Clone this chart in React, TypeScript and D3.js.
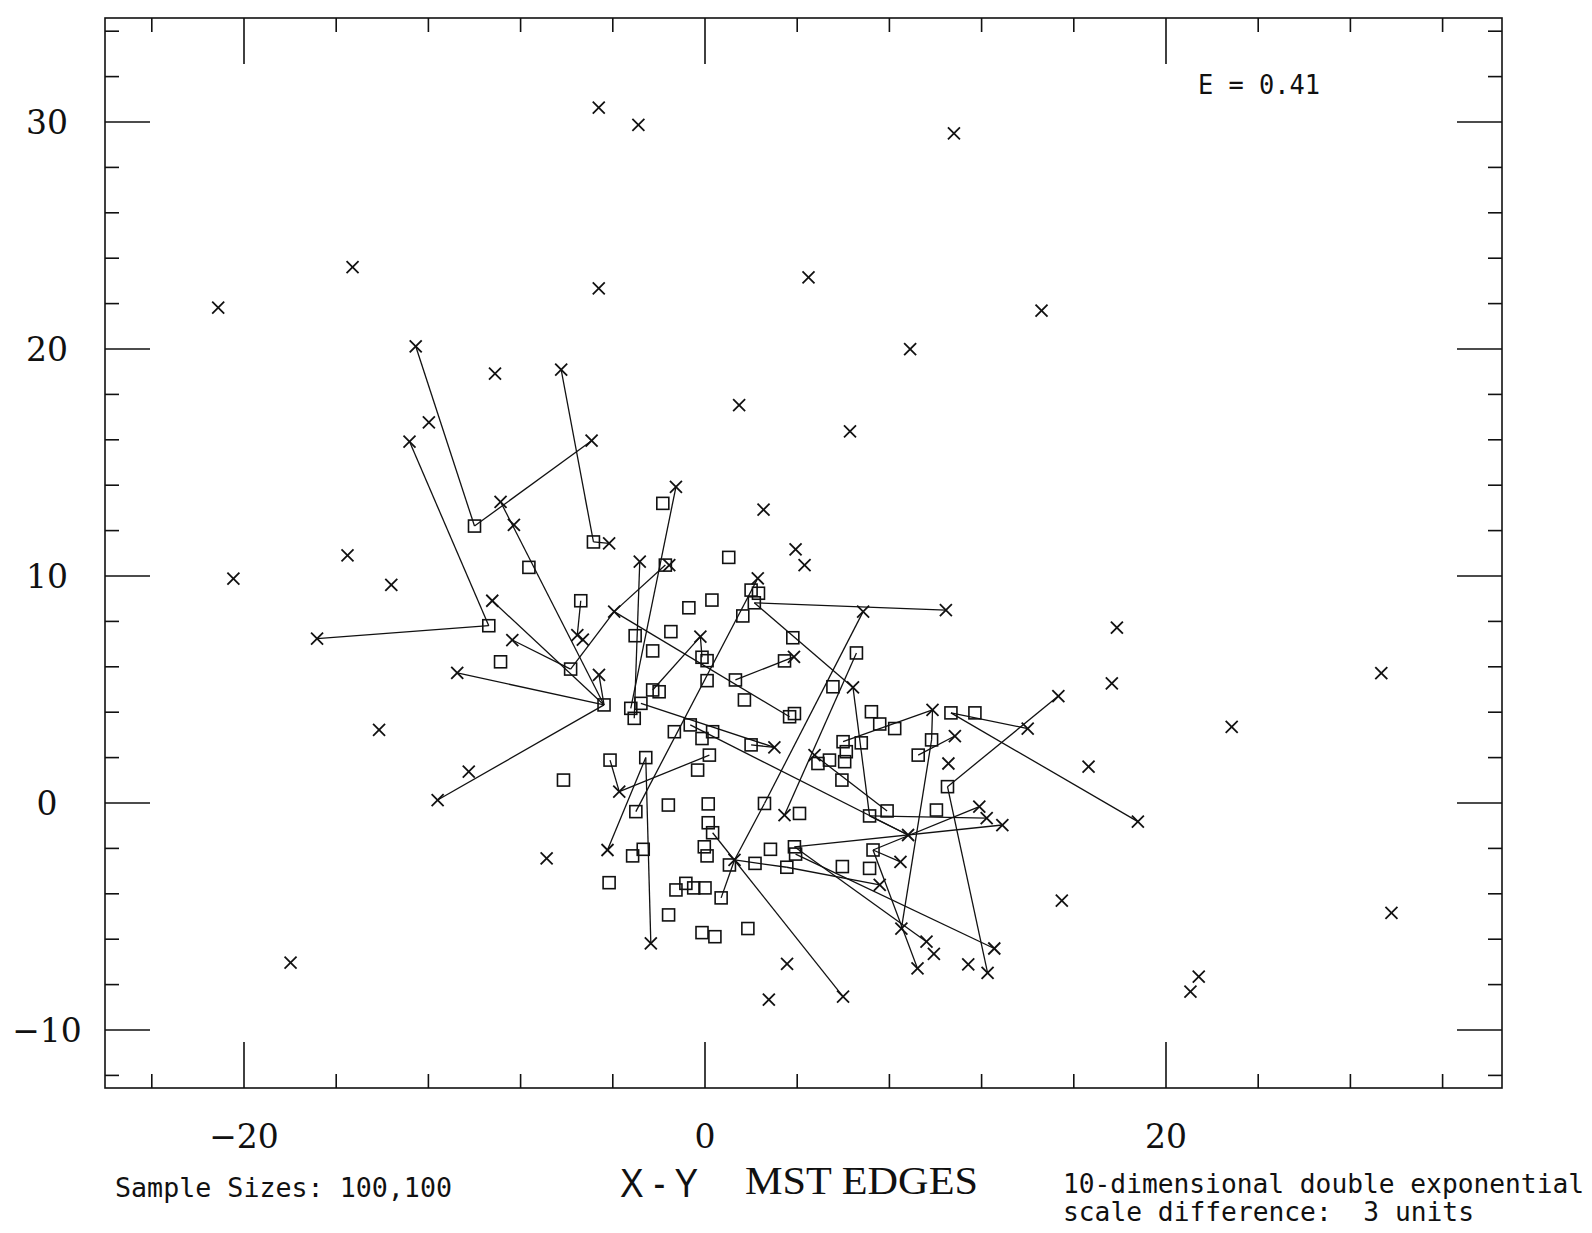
import React from 'react';
import * as d3 from 'd3';

// Sample X (crosses), in data units
const xSample: [number, number][] = [
  [-21.12, 21.82], [-15.29, 23.61], [-4.61, 30.63], [-2.89, 29.87], [10.8, 29.5],
  [-4.61, 22.67], [4.49, 23.16], [14.6, 21.69], [8.9, 19.99], [-12.55, 20.12],
  [-9.11, 18.92], [-6.24, 19.09], [1.48, 17.53], [6.29, 16.37], [-11.98, 16.77],
  [-12.82, 15.92], [-4.92, 15.96], [2.54, 12.92], [-20.46, 9.88], [-15.51, 10.91],
  [-13.61, 9.61], [-16.83, 7.24], [-14.14, 3.22], [-17.98, -7.03], [17.87, 7.73],
  [17.65, 5.27], [29.34, 5.72], [29.78, -4.84], [15.48, -4.3], [22.85, 3.35],
  [16.64, 1.6], [18.78, -0.82], [21.06, -8.31], [21.42, -7.65], [-6.87, -2.44],
  [3.56, -7.09], [2.77, -8.66], [5.99, -8.53], [-2.35, -6.18], [-1.26, 13.93],
  [-8.87, 13.27], [-8.29, 12.25], [-4.16, 11.44], [3.93, 11.17], [-2.83, 10.63],
  [-1.55, 10.48], [2.29, 9.9], [4.32, 10.48], [-9.23, 8.91], [-3.94, 8.43],
  [-8.36, 7.18], [-5.54, 7.4], [-5.3, 7.2], [-0.2, 7.33], [-10.75, 5.73],
  [-4.6, 5.64], [3.86, 6.44], [-10.25, 1.38], [-11.6, 0.13], [-3.72, 0.5],
  [-4.23, -2.07], [10.45, 8.5], [6.86, 8.43], [15.33, 4.71], [6.42, 5.09],
  [9.87, 4.1], [14.0, 3.28], [10.84, 2.95], [3.01, 2.45], [4.75, 2.11],
  [10.56, 1.74], [3.45, -0.53], [1.28, -2.51], [11.9, -0.16], [12.22, -0.67],
  [12.9, -0.97], [8.48, -2.59], [8.81, -1.41], [7.58, -3.61], [8.52, -5.53],
  [9.61, -6.11], [9.93, -6.65], [9.22, -7.29], [11.42, -7.11], [12.26, -7.48],
  [12.55, -6.41],
];

// Sample Y (squares), in data units
const ySample: [number, number][] = [
  [-10.0, 12.2], [-4.84, 11.5], [-9.38, 7.81], [-7.64, 10.38], [-1.83, 13.2],
  [1.03, 10.82], [-1.72, 10.48], [2.0, 9.38], [2.32, 9.24], [2.14, 8.82],
  [-5.39, 8.91], [-0.7, 8.6], [0.3, 8.94], [1.64, 8.24], [3.81, 7.28],
  [-8.87, 6.22], [-3.03, 7.37], [-1.48, 7.55], [-2.27, 6.7], [-5.83, 5.9],
  [-0.13, 6.42], [0.09, 6.27], [0.09, 5.39], [1.32, 5.42], [1.71, 4.54],
  [3.45, 6.26], [-4.38, 4.32], [-3.22, 4.17], [-3.07, 3.73], [-2.78, 4.39],
  [-2.27, 4.98], [-1.99, 4.9], [-1.33, 3.14], [-0.64, 3.44], [0.33, 3.14],
  [-0.13, 2.84], [3.67, 3.8], [3.88, 3.94], [2.0, 2.56], [6.57, 6.61],
  [5.55, 5.12], [7.22, 4.02], [7.58, 3.48], [8.23, 3.28], [10.67, 3.97],
  [11.71, 3.97], [9.83, 2.78], [5.99, 2.7], [6.78, 2.65], [-6.14, 1.01],
  [-4.12, 1.89], [-2.57, 2.0], [-0.32, 1.45], [0.19, 2.11], [-3.0, -0.38],
  [-1.59, -0.09], [0.14, -0.04], [0.14, -0.87], [0.33, -1.31], [-3.14, -2.33],
  [-2.68, -2.04], [-4.16, -3.51], [-0.03, -1.93], [0.09, -2.33], [1.06, -2.73],
  [2.17, -2.66], [2.84, -2.04], [3.88, -1.93], [3.93, -2.25], [3.55, -2.83],
  [2.58, -0.02], [4.1, -0.46], [-1.26, -3.83], [-0.83, -3.54], [-0.49, -3.74],
  [0.0, -3.74], [0.7, -4.18], [-1.58, -4.93], [-0.13, -5.71], [0.43, -5.89],
  [1.86, -5.53], [9.25, 2.11], [4.9, 1.74], [5.4, 1.89], [6.06, 1.82],
  [6.13, 2.26], [5.94, 1.01], [10.52, 0.72], [7.14, -0.57], [7.9, -0.35],
  [10.04, -0.31], [7.29, -2.07], [5.96, -2.8], [7.14, -2.88],
];

// MST edges joining an X point to a Y point: [x1, y1, x2, y2]
const mstEdges: [number, number, number, number][] = [
  [-12.55, 20.12, -10.0, 12.2],
  [-4.92, 15.96, -10.0, 12.2],
  [-6.24, 19.09, -4.84, 11.5],
  [-12.82, 15.92, -9.38, 7.81],
  [-16.83, 7.24, -9.38, 7.81],
  [-8.87, 13.27, -4.38, 4.32],
  [-9.23, 8.91, -4.38, 4.32],
  [-8.36, 7.18, -5.83, 5.9],
  [-10.75, 5.73, -4.38, 4.32],
  [-11.6, 0.13, -4.38, 4.32],
  [-1.26, 13.93, -3.22, 4.17],
  [-2.83, 10.63, -3.07, 3.73],
  [-3.94, 8.43, -1.72, 10.48],
  [-3.94, 8.43, -5.83, 5.9],
  [-3.94, 8.43, 3.67, 3.8],
  [-4.23, -2.07, -2.57, 2.0],
  [-2.35, -6.18, -2.57, 2.0],
  [-3.72, 0.5, 0.19, 2.11],
  [5.99, -8.53, 0.33, -1.31],
  [1.28, -2.51, 2.58, -0.02],
  [6.86, 8.43, 2.58, -0.02],
  [1.28, -2.51, 0.7, -4.18],
  [10.45, 8.5, 2.14, 8.82],
  [6.42, 5.09, 2.14, 8.82],
  [3.86, 6.44, 1.32, 5.42],
  [9.87, 4.1, 5.99, 2.7],
  [9.87, 4.1, 9.83, 2.78],
  [8.52, -5.53, 9.83, 2.78],
  [14.0, 3.28, 10.67, 3.97],
  [18.78, -0.82, 10.67, 3.97],
  [15.33, 4.71, 10.52, 0.72],
  [12.26, -7.48, 10.52, 0.72],
  [12.9, -0.97, 3.88, -1.93],
  [11.9, -0.16, 7.29, -2.07],
  [12.22, -0.67, 7.14, -0.57],
  [9.22, -7.29, 7.29, -2.07],
  [12.55, -6.41, 3.93, -2.25],
  [9.61, -6.11, 3.88, -1.93],
  [7.58, -3.61, 3.55, -2.83],
  [6.42, 5.09, 7.14, -0.57],
  [2.29, 9.9, -3.0, -0.38],
  [3.45, -0.53, 6.57, 6.61],
  [-0.2, 7.33, -0.13, 6.42],
  [4.75, 2.11, 7.9, -0.35],
  [8.81, -1.41, 7.14, -0.57],
  [8.48, -2.59, 7.29, -2.07],
  [-4.6, 5.64, -4.38, 4.32],
  [-0.2, 7.33, -2.27, 4.98],
  [3.01, 2.45, 2.0, 2.56],
  [-3.72, 0.5, -4.12, 1.89],
  [1.28, -2.51, 3.55, -2.83],
  [-4.16, 11.44, -4.84, 11.5],
  [8.81, -1.41, -0.64, 3.44],
  [3.01, 2.45, -2.78, 4.39],
  [-5.54, 7.4, -5.39, 8.91],
  [10.84, 2.95, 9.25, 2.11],
];

const xTickValues = d3.range(-24, 33, 4);
const yTickValues = d3.range(-12, 35, 2);
const xTickLabels = [-20, 0, 20];
const yTickLabels = [-10, 0, 10, 20, 30];

const statText = 'E = 0.41';
const sampleText = 'Sample Sizes: 100,100';
const titleLeft = 'X - Y';
const titleRight = 'MST EDGES';
const noteLine1 = '10-dimensional double exponential';
const noteLine2 = 'scale difference:  3 units';

const W = 1592;
const H = 1233;
const frame = { left: 105, right: 1502, top: 18, bottom: 1088 };

const x = d3.scaleLinear().domain([-20, 20]).range([244, 1166]);
const y = d3.scaleLinear().domain([0, 30]).range([803, 122]);

const fmt = (v: number) => (v < 0 ? '\u2212' + Math.abs(v) : String(v));

export default function App() {
  const ink = '#111';
  const cross = 6;
  const box = 6;
  const serif = '"DejaVu Serif", serif';
  const mono = '"DejaVu Sans Mono", monospace';
  return (
    <svg
      width={W}
      height={H}
      viewBox={`0 0 ${W} ${H}`}
      style={{ position: 'absolute', left: 0, top: 0, background: '#fff' }}
    >
      <rect x={0} y={0} width={W} height={H} fill="#fff" />
      {/* frame */}
      <rect
        x={frame.left}
        y={frame.top}
        width={frame.right - frame.left}
        height={frame.bottom - frame.top}
        fill="none"
        stroke={ink}
        strokeWidth={1.6}
      />
      {/* x ticks, bottom and top */}
      {xTickValues.map((v) => {
        const len = xTickLabels.includes(v) ? 46 : 14;
        return (
          <g key={'xt' + v} stroke={ink} strokeWidth={1.6}>
            <line x1={x(v)} x2={x(v)} y1={frame.bottom} y2={frame.bottom - len} />
            <line x1={x(v)} x2={x(v)} y1={frame.top} y2={frame.top + len} />
          </g>
        );
      })}
      {/* y ticks, left and right */}
      {yTickValues.map((v) => {
        const len = yTickLabels.includes(v) ? 45 : 14;
        return (
          <g key={'yt' + v} stroke={ink} strokeWidth={1.6}>
            <line x1={frame.left} x2={frame.left + len} y1={y(v)} y2={y(v)} />
            <line x1={frame.right} x2={frame.right - len} y1={y(v)} y2={y(v)} />
          </g>
        );
      })}
      {/* tick labels */}
      {xTickLabels.map((v) => (
        <text
          key={'xl' + v}
          x={x(v)}
          y={1148}
          textAnchor="middle"
          fontFamily={serif}
          fontSize={33}
          fill={ink}
        >
          {fmt(v)}
        </text>
      ))}
      {yTickLabels.map((v) => (
        <text
          key={'yl' + v}
          x={47}
          y={y(v)}
          textAnchor="middle"
          dominantBaseline="central"
          fontFamily={serif}
          fontSize={33}
          fill={ink}
        >
          {fmt(v)}
        </text>
      ))}

      {/* MST edges */}
      <g stroke={ink} strokeWidth={1.3} fill="none">
        {mstEdges.map((e, i) => (
          <line key={'e' + i} x1={x(e[0])} y1={y(e[1])} x2={x(e[2])} y2={y(e[3])} />
        ))}
      </g>

      {/* Y sample: squares */}
      <g stroke={ink} strokeWidth={1.6} fill="none">
        {ySample.map((p, i) => (
          <rect key={'s' + i} x={x(p[0]) - box} y={y(p[1]) - box} width={box * 2} height={box * 2} />
        ))}
      </g>

      {/* X sample: crosses */}
      <g stroke={ink} strokeWidth={1.8}>
        {xSample.map((p, i) => {
          const cx = x(p[0]);
          const cy = y(p[1]);
          return (
            <g key={'c' + i}>
              <line x1={cx - cross} y1={cy - cross} x2={cx + cross} y2={cy + cross} />
              <line x1={cx - cross} y1={cy + cross} x2={cx + cross} y2={cy - cross} />
            </g>
          );
        })}
      </g>

      {/* annotations */}
      <text x={1198} y={94} fontFamily={mono} fontSize={27} fill={ink} textLength={122} lengthAdjust="spacingAndGlyphs">
        {statText}
      </text>
      <text x={115} y={1197} fontFamily={mono} fontSize={26} fill={ink} textLength={337} lengthAdjust="spacingAndGlyphs">
        {sampleText}
      </text>
      <text x={620} y={1197} fontFamily='"Liberation Sans Narrow", "Liberation Sans", sans-serif' fontSize={40} fill={ink} textLength={78} lengthAdjust="spacingAndGlyphs">
        {titleLeft}
      </text>
      <text x={745} y={1194} fontFamily='"Liberation Serif", serif' fontSize={40} fill={ink} textLength={233} lengthAdjust="spacingAndGlyphs">
        {titleRight}
      </text>
      <text x={1063} y={1193} fontFamily={mono} fontSize={26} fill={ink} textLength={521} lengthAdjust="spacingAndGlyphs">
        {noteLine1}
      </text>
      <text x={1063} y={1221} fontFamily={mono} fontSize={26} fill={ink} xmlSpace="preserve" style={{ whiteSpace: 'pre' }} textLength={411} lengthAdjust="spacingAndGlyphs">
        {noteLine2}
      </text>
    </svg>
  );
}
